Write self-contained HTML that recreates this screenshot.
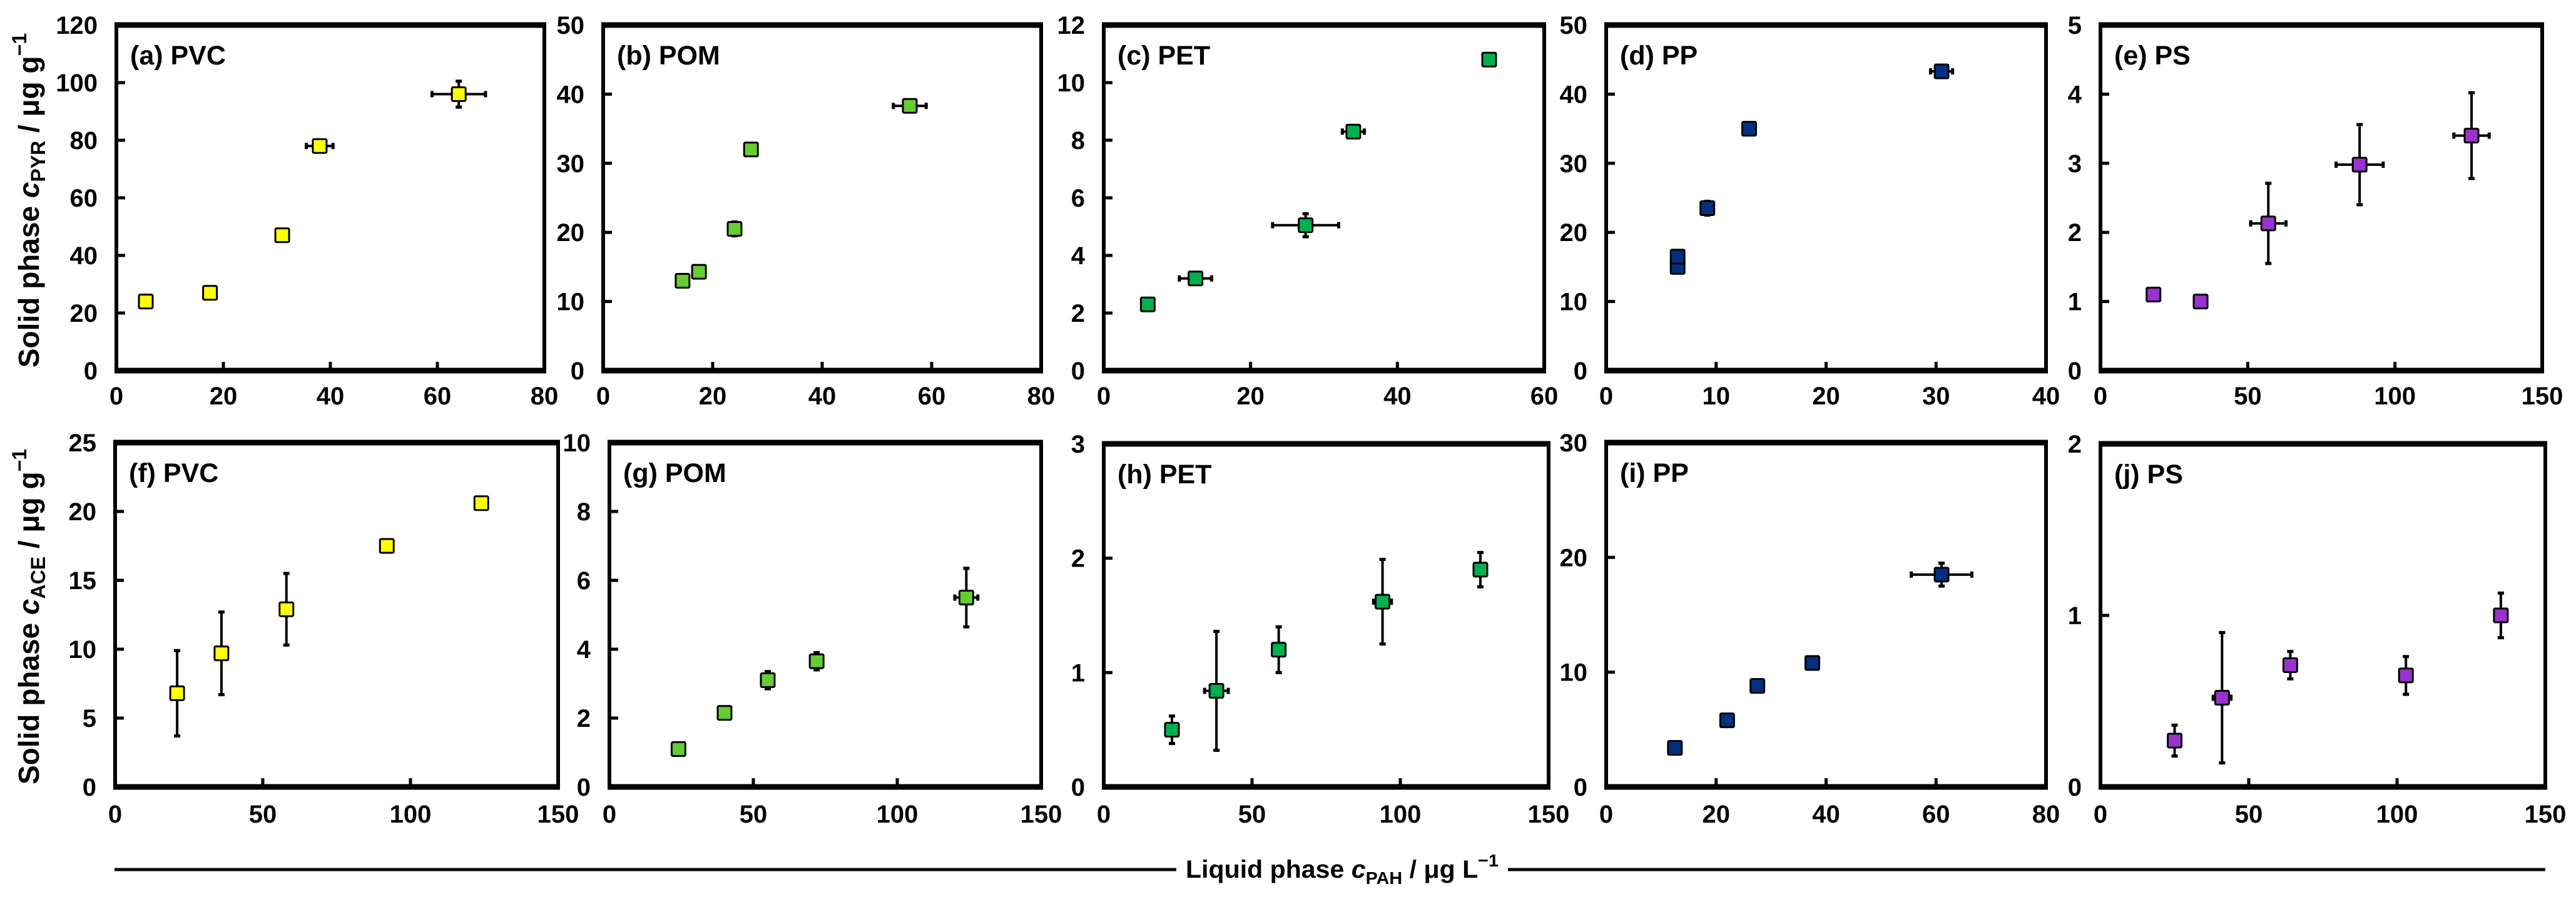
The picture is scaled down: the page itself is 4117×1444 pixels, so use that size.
<!DOCTYPE html>
<html><head><meta charset="utf-8"><style>
html,body{margin:0;padding:0;background:#fff;}
svg{display:block;font-family:"Liberation Sans",Arial,sans-serif;font-weight:bold;}
</style></head><body>
<svg id="fig" width="4117" height="1444" viewBox="0 0 4117 1444" xmlns="http://www.w3.org/2000/svg">
<g>
<line x1="183" y1="1389" x2="1880" y2="1389" stroke="#000" stroke-width="5"/>
<line x1="2410" y1="1389" x2="4068" y2="1389" stroke="#000" stroke-width="5"/>
<text x="1895" y="1402" font-size="40" textLength="500" lengthAdjust="spacingAndGlyphs">Liquid phase <tspan font-style="italic">c</tspan><tspan font-size="28" dy="10">PAH</tspan><tspan dy="-10"> / μg L</tspan><tspan font-size="28" dy="-18">−1</tspan></text>
</g>
<text transform="translate(62,320) rotate(-90)" text-anchor="middle" font-size="46">Solid phase <tspan font-style="italic">c</tspan><tspan font-size="32" dy="10">PYR</tspan><tspan dy="-10"> / μg g</tspan><tspan font-size="32" dy="-20">−1</tspan></text>
<text transform="translate(62,985) rotate(-90)" text-anchor="middle" font-size="46">Solid phase <tspan font-style="italic">c</tspan><tspan font-size="32" dy="10">ACE</tspan><tspan dy="-10"> / μg g</tspan><tspan font-size="32" dy="-20">−1</tspan></text>
</svg>
<script>
// ---- data ----
const aX=[5.5,17.5,31,38,64], aY=[24,27,47,78,96], aXE=[0,0,0,2.5,5], aYE=[0,0,0,1.5,4.5];
const bX=[14.5,17.5,24,27,56], bY=[13,14.3,20.5,32,38.3], bXE=[0,0,0,0,3], bYE=[0.5,0.5,1,0.5,0.8];
const cX=[6,12.5,27.5,34,52.5], cY=[2.3,3.2,5.05,8.3,10.8], cXE=[0.8,2.2,4.5,1.5,0.8], cYE=[0.1,0.2,0.4,0.1,0.1];
const dX=[6.5,6.5,9.2,13,30.5], dY=[15,16.5,23.5,35,43.3], dXE=[0,0,0,0,1], dYE=[0,0.5,1,0.5,0.5];
const eX=[18,34,57,88,126], eY=[1.1,1.0,2.13,2.98,3.4], eXE=[0,0,6,8,6], eYE=[0,0,0.58,0.58,0.62];
const fX=[21,36,58,92,124], fY=[6.8,9.7,12.9,17.5,20.6], fXE=[2,2,2,0,0], fYE=[3.1,3,2.6,0,0];
const gX=[24,40,55,72,124], gY=[1.1,2.15,3.1,3.65,5.5], gXE=[0,0,0,0,4], gYE=[0,0,0.25,0.25,0.85];
const hX=[23,38,59,94,127], hY=[0.5,0.84,1.2,1.62,1.9], hXE=[0,4,0,3,0], hYE=[0.12,0.52,0.2,0.37,0.15];
const iX=[12.5,22,27.5,37.5,61], iY=[3.4,5.8,8.8,10.8,18.5], iXE=[0,0,0,0,5.5], iYE=[0,0,0,0,1];
const jX=[25,41,64,103,135], jY=[0.27,0.52,0.71,0.65,1.0], jXE=[0,3,0,0,0], jYE=[0.09,0.38,0.08,0.11,0.13];
const xTicksA=[0,20,40,60,80], xTicksC=[0,20,40,60], xTicksD=[0,10,20,30,40], xTicks150=[0,50,100,150];
const yTicksA=[0,20,40,60,80,100,120], yTicks50=[0,10,20,30,40,50], yTicksC=[0,2,4,6,8,10,12], yTicksE=[0,1,2,3,4,5];
const yTicksF=[0,5,10,15,20,25], yTicksG=[0,2,4,6,8,10], yTicksH=[0,1,2,3], yTicksI=[0,10,20,30], yTicksJ=[0,1,2];
const panelLabels=["(a) PVC","(b) POM","(c) PET","(d) PP","(e) PS","(f) PVC","(g) POM","(h) PET","(i) PP","(j) PS"];

const NS="http://www.w3.org/2000/svg";
const svg=document.getElementById('fig');
function mk(tag,attrs,parent){const e=document.createElementNS(NS,tag);for(const k in attrs)e.setAttribute(k,attrs[k]);(parent||svg).appendChild(e);return e;}

const panels=[
 {id:'a',L:186,R:870,T:40,B:592,xt:xTicksA,yt:yTicksA,X:aX,Y:aY,XE:aXE,YE:aYE,col:'#ffff00'},
 {id:'b',L:964,R:1664,T:40,B:592,xt:xTicksA,yt:yTicks50,X:bX,Y:bY,XE:bXE,YE:bYE,col:'#66cc33'},
 {id:'c',L:1764,R:2468,T:40,B:592,xt:xTicksC,yt:yTicksC,X:cX,Y:cY,XE:cXE,YE:cYE,col:'#00b050'},
 {id:'d',L:2567,R:3270,T:40,B:592,xt:xTicksD,yt:yTicks50,X:dX,Y:dY,XE:dXE,YE:dYE,col:'#00307f'},
 {id:'e',L:3357,R:4063,T:40,B:592,xt:xTicks150,yt:yTicksE,X:eX,Y:eY,XE:eXE,YE:eYE,col:'#9933cc'},
 {id:'f',L:184,R:892,T:707,B:1257,xt:xTicks150,yt:yTicksF,X:fX,Y:fY,XE:fXE,YE:fYE,col:'#ffff00'},
 {id:'g',L:974,R:1664,T:707,B:1257,xt:xTicks150,yt:yTicksG,X:gX,Y:gY,XE:gXE,YE:gYE,col:'#66cc33'},
 {id:'h',L:1764,R:2475,T:709,B:1257,xt:xTicks150,yt:yTicksH,X:hX,Y:hY,XE:hXE,YE:hYE,col:'#00b050'},
 {id:'i',L:2567,R:3270,T:707,B:1257,xt:xTicksA,yt:yTicksI,X:iX,Y:iY,XE:iXE,YE:iYE,col:'#00307f'},
 {id:'j',L:3357,R:4068,T:709,B:1257,xt:xTicks150,yt:yTicksJ,X:jX,Y:jY,XE:jXE,YE:jYE,col:'#9933cc'}
];

panels.forEach((p,pi)=>{
  const g=mk('g',{});
  
  
  const xMax=p.xt[p.xt.length-1], yMax=p.yt[p.yt.length-1];
  const sx=v=>p.L+(v/xMax)*(p.R-p.L);
  const sy=v=>p.B-(v/yMax)*(p.B-p.T);
  // frame
  const fr=mk('g',{},g);
  
  
  mk('line',{x1:p.L,y1:p.T,x2:p.L,y2:p.B,stroke:'#000','stroke-width':6},fr);
  mk('line',{x1:p.R,y1:p.T,x2:p.R,y2:p.B,stroke:'#000','stroke-width':6},fr);
  mk('line',{x1:p.L-3,y1:p.T,x2:p.R+3,y2:p.T,stroke:'#000','stroke-width':9},fr);
  mk('line',{x1:p.L-3,y1:p.B,x2:p.R+3,y2:p.B,stroke:'#000','stroke-width':9},fr);
  // x ticks
  p.xt.forEach((v,k)=>{
    const x=sx(v);
    if(k>0&&k<p.xt.length-1){
      const t=mk('line',{x1:x,y1:p.B,x2:x,y2:p.B-14,stroke:'#000','stroke-width':5},g);
      
      
    }
    const lb=mk('text',{x:x,y:p.T<100?646:1314,'text-anchor':'middle','font-size':40},g);
    
    
    lb.textContent=v;
  });
  // y ticks
  p.yt.forEach((v,k)=>{
    const y=sy(v);
    if(k>0&&k<p.yt.length-1){
      const t=mk('line',{x1:p.L,y1:y,x2:p.L+14,y2:y,stroke:'#000','stroke-width':5},g);
      
      
    }
    const lb=mk('text',{x:p.L-30,y:y+14,'text-anchor':'end','font-size':40},g);
    
    
    lb.textContent=v;
  });
  // panel label
  const pl=mk('text',{x:p.L+22,y:p.T+63,'font-size':43},g);
  
  
  pl.textContent=panelLabels[pi];
  // points
  p.X.forEach((xv,k)=>{
    const cx=sx(xv), cy=sy(p.Y[k]);
    const pg=mk('g',{},g);
    
    
    if(p.XE[k]>0){
      const x1=sx(xv-p.XE[k]), x2=sx(xv+p.XE[k]);
      mk('line',{x1:x1,y1:cy,x2:x2,y2:cy,stroke:'#000','stroke-width':4},pg);
      mk('line',{x1:x1,y1:cy-5,x2:x1,y2:cy+5,stroke:'#000','stroke-width':5},pg);
      mk('line',{x1:x2,y1:cy-5,x2:x2,y2:cy+5,stroke:'#000','stroke-width':5},pg);
    }
    if(p.YE[k]>0){
      const y1=sy(p.Y[k]-p.YE[k]), y2=sy(p.Y[k]+p.YE[k]);
      mk('line',{x1:cx,y1:y1,x2:cx,y2:y2,stroke:'#000','stroke-width':4},pg);
      mk('line',{x1:cx-5,y1:y1,x2:cx+5,y2:y1,stroke:'#000','stroke-width':5},pg);
      mk('line',{x1:cx-5,y1:y2,x2:cx+5,y2:y2,stroke:'#000','stroke-width':5},pg);
    }
    mk('rect',{x:cx-11,y:cy-11,width:22,height:22,fill:p.col,stroke:'#000','stroke-width':3,rx:2},pg);
  });
});
</script>
</body></html>
